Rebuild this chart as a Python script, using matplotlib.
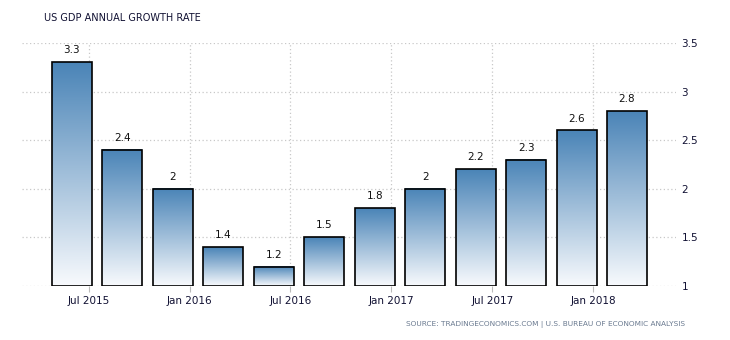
import matplotlib
matplotlib.use("Agg")
import matplotlib.pyplot as plt
import numpy as np
from matplotlib.patches import Rectangle
from matplotlib.colors import LinearSegmentedColormap

quarters = ["2015Q2", "2015Q3", "2015Q4", "2016Q1", "2016Q2", "2016Q3",
            "2016Q4", "2017Q1", "2017Q2", "2017Q3", "2017Q4", "2018Q1"]
values = [3.3, 2.4, 2.0, 1.4, 1.2, 1.5, 1.8, 2.0, 2.2, 2.3, 2.6, 2.8]
value_labels = ["3.3", "2.4", "2", "1.4", "1.2", "1.5", "1.8", "2", "2.2", "2.3", "2.6", "2.8"]
tick_labels = ["Jul 2015", "Jan 2016", "Jul 2016", "Jan 2017", "Jul 2017", "Jan 2018"]
tick_bar_index = [0, 2, 4, 6, 8, 10]
yticks = [1, 1.5, 2, 2.5, 3, 3.5]
ytick_labels = ["1", "1.5", "2", "2.5", "3", "3.5"]

fig = plt.figure(figsize=(7.3, 3.4), dpi=100)
ax = fig.add_axes([22/730, 54/340, (676-22)/730, (286-43)/340])

cmap = LinearSegmentedColormap.from_list("g", ["#f8fafd", "#4a84b7"])
grad = np.linspace(0, 1, 256).reshape(-1, 1)
w = 0.79
x = np.arange(len(values))
base = 1.0
for xi, v, lab in zip(x, values, value_labels):
    ax.imshow(grad, extent=[xi - w/2, xi + w/2, base, v], origin="lower",
              aspect="auto", cmap=cmap, zorder=2, interpolation="bilinear")
    ax.add_patch(Rectangle((xi - w/2, base), w, v - base, fill=False,
                           edgecolor="black", linewidth=1.2, zorder=3))
    ax.annotate(lab, (xi, v), xytext=(0, 5), textcoords="offset points",
                ha="center", va="bottom", fontsize=7.5, color="#111111")

ax.set_xlim(-0.99, 11.97)
ax.set_ylim(1, 3.5)

tick_pos = [x[i] + 0.33 for i in tick_bar_index]
ax.set_xticks(tick_pos)
ax.set_xticklabels(tick_labels, fontsize=7.5, color="#111133")
ax.set_yticks(yticks)
ax.set_yticklabels(ytick_labels, fontsize=7.5, color="#111133")
ax.yaxis.tick_right()
ax.tick_params(axis="y", length=0, pad=4)
ax.tick_params(axis="x", length=4, color="#bbbbbb", pad=3)

ax.grid(True, axis="both", linestyle=(0, (1, 2)), color="#c8c8c8", linewidth=0.9, zorder=0)
ax.set_axisbelow(True)
for s in ax.spines.values():
    s.set_visible(False)

fig.text(44/730, 1 - 18/340, "US GDP ANNUAL GROWTH RATE", fontsize=7,
         color="#111133", ha="left", va="center")
fig.text(685/730, 1 - 325/340,
         "SOURCE: TRADINGECONOMICS.COM | U.S. BUREAU OF ECONOMIC ANALYSIS",
         fontsize=5.3, color="#6a7a90", ha="right", va="center")

fig.savefig("out.png", dpi=100)
